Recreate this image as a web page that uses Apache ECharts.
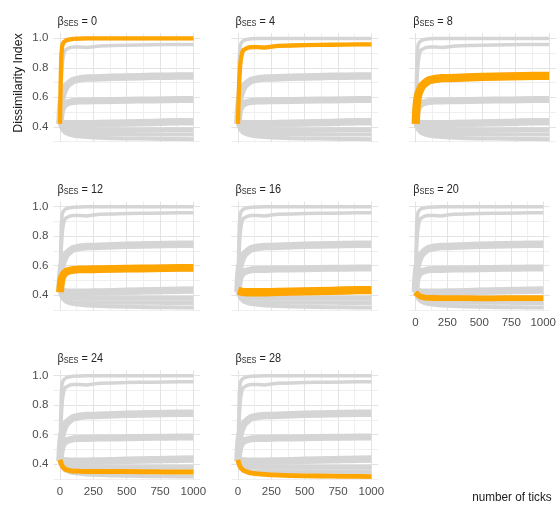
<!DOCTYPE html>
<html><head><meta charset="utf-8">
<script src="https://cdn.jsdelivr.net/npm/echarts@6/dist/echarts.min.js"></script>
<style>html,body{margin:0;padding:0;background:#fff}#c{width:559px;height:514px}</style>
</head><body><div id="c"></div><script>
const betas = [0, 4, 8, 12, 16, 20, 24, 28];
const ticks = [0,5,10,15,20,30,40,50,75,100,150,200,250,300,400,500,600,700,800,900,1000];
const b0  = [0.42,0.70,0.88,0.94,0.96,0.975,0.983,0.988,0.993,0.996,0.998,0.999,0.999,0.999,0.999,0.999,0.999,0.999,0.999,0.999,0.999];
const b4  = [0.42,0.60,0.72,0.80,0.85,0.90,0.92,0.93,0.937,0.94,0.94,0.937,0.943,0.948,0.951,0.953,0.955,0.956,0.957,0.958,0.958];
const b8  = [0.42,0.52,0.57,0.60,0.62,0.645,0.665,0.68,0.70,0.715,0.725,0.73,0.73,0.732,0.735,0.738,0.74,0.742,0.743,0.745,0.745];
const b12 = [0.42,0.47,0.50,0.52,0.53,0.545,0.555,0.56,0.567,0.572,0.575,0.575,0.576,0.577,0.578,0.58,0.581,0.582,0.583,0.585,0.585];
const b16 = [0.43,0.43,0.428,0.426,0.425,0.423,0.422,0.421,0.42,0.42,0.42,0.42,0.421,0.422,0.424,0.426,0.428,0.43,0.432,0.434,0.435];
const b20 = [0.42,0.415,0.41,0.405,0.40,0.394,0.39,0.387,0.384,0.382,0.381,0.38,0.38,0.38,0.38,0.379,0.379,0.38,0.38,0.38,0.38];
const b24 = [0.43,0.415,0.40,0.39,0.382,0.372,0.365,0.36,0.356,0.354,0.352,0.351,0.35,0.35,0.35,0.35,0.349,0.349,0.348,0.348,0.348];
const b28 = [0.43,0.41,0.395,0.385,0.377,0.366,0.358,0.352,0.345,0.34,0.335,0.331,0.328,0.326,0.323,0.321,0.32,0.319,0.318,0.317,0.316];
const seriesValues = [b0, b4, b8, b12, b16, b20, b24, b28];
const xTickLabels = [0, 250, 500, 750, 1000];
const xGridValues = [0, 125, 250, 375, 500, 625, 750, 875, 1000];
const yTickLabels = [0.4, 0.6, 0.8, 1.0];
const yGridValues = [0.3, 0.4, 0.5, 0.6, 0.7, 0.8, 0.9, 1.0];

// styling / layout
const bandWidth = [3.5, 3.5, 7.5, 7, 7.5, 5, 4.2, 4];
const FONT = '"Liberation Sans", Arial, sans-serif';
const colX0 = [60, 238, 415.7];
const rowTop = [33.1, 201.5, 370.5];
const PW = 146.7, PH = 109.2;
const MAJOR = '#e3e3e3', MINOR = '#efefef';
const xLabelPanels = [5, 6, 7];

const grid = [], xAxis = [], yAxis = [], series = [], graphics = [];
betas.forEach((b, i) => {
  const col = i % 3, row = Math.floor(i / 3);
  const left = colX0[col] - 6.67, top = rowTop[row];
  grid.push({left: left, top: top, width: PW, height: PH, containLabel: false});
  xAxis.push({
    type: 'value', gridIndex: i, min: -50, max: 1050,
    axisLine: {show: false},
    axisTick: {show: false, customValues: xGridValues},
    axisLabel: {show: xLabelPanels.includes(i), customValues: xTickLabels, color: '#4d4d4d',
      fontFamily: FONT, fontSize: 11.5, margin: 6, formatter: v => String(v)},
    splitLine: {show: true, lineStyle: {color: [MAJOR, MINOR], width: 1}}
  });
  yAxis.push({
    type: 'value', gridIndex: i, min: 0.295, max: 1.035,
    axisLine: {show: false},
    axisTick: {show: false, customValues: yGridValues},
    axisLabel: {show: col === 0, customValues: yTickLabels, color: '#4d4d4d',
      fontFamily: FONT, fontSize: 11.5, margin: 5, formatter: v => v.toFixed(1)},
    splitLine: {show: true, lineStyle: {color: [MINOR, MAJOR], width: 1}}
  });
  seriesValues.forEach((vals, k) => {
    series.push({
      type: 'line', xAxisIndex: i, yAxisIndex: i, showSymbol: false, silent: true,
      data: ticks.map((t, j) => [t, vals[j]]),
      lineStyle: {color: '#d5d5d5', width: bandWidth[k], cap: 'butt', join: 'round'},
      z: 2
    });
  });
  series.push({
    type: 'line', xAxisIndex: i, yAxisIndex: i, showSymbol: false, silent: true,
    data: ticks.map((t, j) => [t, seriesValues[i][j]]),
    lineStyle: {color: '#ffa500', width: bandWidth[i] + 0.8, cap: 'butt', join: 'round'},
    z: 3
  });
  graphics.push({
    type: 'text', x: colX0[col] - 2.5, y: top - 11.5, scaleX: 0.87,
    style: {
      text: '{b|β}{s|SES}{b| = ' + b + '}',
      verticalAlign: 'middle', align: 'left',
      rich: {
        b: {fontFamily: FONT, fontSize: 12.5, fontWeight: 'normal', fill: '#262626', lineHeight: 15},
        s: {fontFamily: FONT, fontSize: 8.5, fontWeight: 'normal', fill: '#262626', padding: [4, 0, 0, 0]}
      }
    }
  });
});

graphics.push(
  {type: 'text', x: 18, y: 83, rotation: Math.PI / 2, scaleX: 0.95,
    style: {text: 'Dissimilarity Index', fontFamily: FONT, fontSize: 13, fill: '#1a1a1a',
      align: 'center', verticalAlign: 'middle'}},
  {type: 'text', x: 512, y: 497, scaleX: 0.9,
    style: {text: 'number of ticks', fontFamily: FONT, fontSize: 13, fill: '#1a1a1a',
      align: 'center', verticalAlign: 'middle'}}
);

const chart = echarts.init(document.getElementById('c'), null, {renderer: 'canvas'});
chart.setOption({
  animation: false,
  backgroundColor: '#fff',
  grid: grid, xAxis: xAxis, yAxis: yAxis, series: series,
  graphic: graphics
});
</script></body></html>
